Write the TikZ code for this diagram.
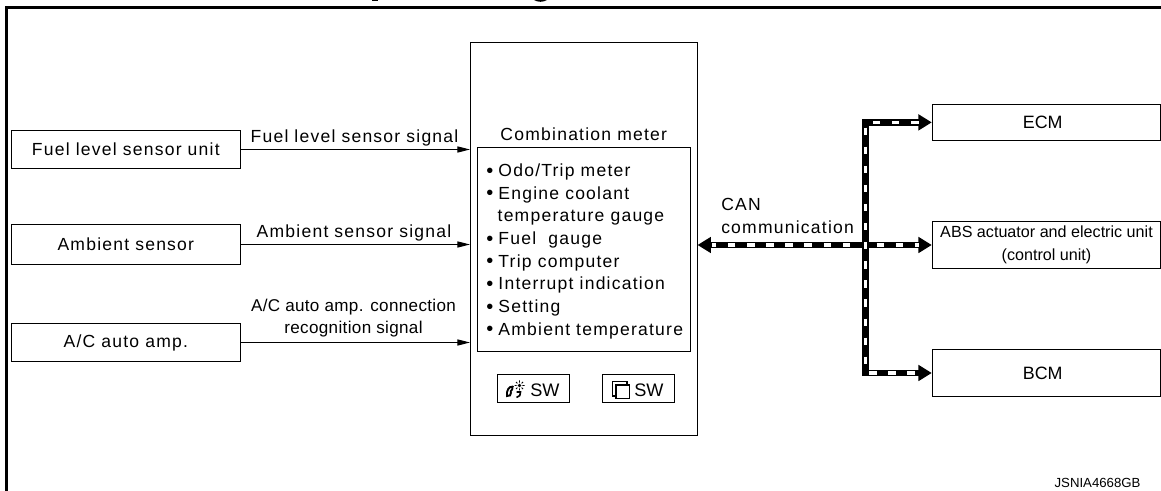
\documentclass[tikz,border=0pt]{standalone}
\usepackage{fontspec}
\usetikzlibrary{arrows.meta}
\setmainfont{Liberation Sans}
\newfontfamily\spc[LetterSpace=7]{Liberation Sans}
\newfontfamily\spl[LetterSpace=2]{Liberation Sans}
\newlength{\pxu}\setlength{\pxu}{0.75pt}
\newcommand{\bul}{\makebox[12.2\pxu][l]{\raisebox{-0.6pt}{\fontsize{15pt}{15pt}\selectfont\textbullet}}}
\tikzset{
  x=0.75pt,y=-0.75pt,
  box/.style={draw=black,line width=0.75pt,fill=white,inner sep=0pt,align=center},
  wide/.style={font=\fontsize{13.15pt}{17pt}\selectfont\spc},
  narrow/.style={font=\fontsize{12.8pt}{16.8pt}\selectfont\spl},
  tight/.style={font=\fontsize{12.1pt}{17.5pt}\selectfont},
  lab/.style={inner sep=0pt,anchor=base},
  sig/.style={draw=black,line width=0.75pt,-{Triangle[length=9.5pt,width=4.6pt]}},
  canbase/.style={draw=black,line width=4.9pt,line cap=butt,miter limit=10,-{Triangle[length=10pt,width=11.5pt]}},
  canbaseb/.style={draw=black,line width=4.9pt,{Triangle[length=10pt,width=11.5pt]}-},
  candash/.style={draw=white,line width=2.4pt,dash pattern=on 5.5pt off 8.82pt},
}
\begin{document}
\begin{tikzpicture}
\useasboundingbox (0,0) rectangle (1161,491);
% frame
\draw[line width=2.3pt] (6.5,491) -- (6.5,7.5) -- (1161,7.5);
% title remnants
\fill (371.5,0) rectangle (377.5,1.4);
\fill (534,0) .. controls (538,2.4) and (543,2.4) .. (547,0) -- cycle;
% left boxes
\node[box,wide,minimum width=171.9pt,minimum height=28.5pt] (fuel) at (125.8,149.5) {Fuel level sensor unit};
\node[box,wide,minimum width=171.9pt,minimum height=29.5pt] (amb) at (125.8,244.5) {Ambient sensor};
\node[box,wide,minimum width=171.9pt,minimum height=29.2pt] (ac) at (125.8,342.5) {A/C auto amp.};
% main
\node[box,minimum width=169.9pt,minimum height=294.5pt] (main) at (583.75,238.8) {};
\node[lab,wide] (title) at (583.75,140.7) {Combination meter};
\node[box,minimum width=159.4pt,minimum height=153.3pt] (inner) at (583.75,249.5) {};
\node[inner sep=0pt,anchor=north west,align=left,wide] (list) at (486,163.4) {\bul Odo/Trip meter\\\bul Engine coolant\\\hspace*{11.4\pxu}temperature gauge\\\bul Fuel\ \ gauge\\\bul Trip computer\\\bul Interrupt indication\\\bul Setting\\\bul Ambient temperature};
\node[box,minimum width=54.3pt,minimum height=21.3pt] (sw1) at (533.5,388.5) {};
\node[box,minimum width=54.3pt,minimum height=21.3pt] (sw2) at (638.5,388.5) {};
\node[inner sep=0pt,anchor=base west,font=\fontsize{13.6pt}{16pt}\selectfont] (sw1t) at (530,396.7) {SW};
\node[inner sep=0pt,anchor=base west,font=\fontsize{13.6pt}{16pt}\selectfont] (sw2t) at (634,396.7) {SW};
% sw1 icon
\draw[line width=1.4pt,line cap=round] (513,386.5) .. controls (509,386) and (506,391) .. (507,396) .. controls (509.5,396.5) and (511.5,395) .. (511,392.5) (512.5,386.5) .. controls (513,388.5) and (512,390.5) .. (510.5,391.5);
\fill (519.5,385.5) circle (1.9);
\draw[line width=0.7pt] (519.5,380.5)--(519.5,382.6) (519.5,388.4)--(519.5,390.5) (514.5,385.5)--(516.6,385.5) (522.4,385.5)--(524.5,385.5) (516,382)--(517.4,383.4) (521.6,387.6)--(523,389) (523,382)--(521.6,383.4) (517.4,387.6)--(516,389);
\draw[line width=1.2pt] (516.5,392) -- (520.5,392) -- (519.8,395.5) -- (516.5,397.5);
% sw2 icon
\draw[line width=0.8pt] (612.8,381.8) rectangle (627,396);
\draw[line width=0.8pt,fill=white] (616,385) rectangle (629.3,398.3);
% right boxes
\node[box,minimum width=171.3pt,minimum height=27.5pt,font=\fontsize{13.4pt}{16pt}\selectfont] (ecm) at (1046.5,122.4) {ECM\hspace*{5.7pt}};
\node[box,tight,minimum width=171.3pt,minimum height=35.5pt] (abs) at (1046.5,244.7) {ABS actuator and electric unit\\(control unit)};
\node[box,minimum width=171.3pt,minimum height=35.5pt,font=\fontsize{13.4pt}{16pt}\selectfont] (bcm) at (1046.5,373) {BCM\hspace*{5.7pt}};
% signals
\coordinate (sf) at (main.west |- fuel.east);
\coordinate (sa) at (main.west |- amb.east);
\coordinate (sc) at (main.west |- ac.east);
\draw[sig] (fuel.east) -- (sf);
\draw[sig] (amb.east) -- (sa);
\draw[sig] (ac.east) -- (sc);
\node[lab,wide] (lf) at (354.5,142.7) {Fuel level sensor signal};
\node[lab,wide] (la) at (354,238) {Ambient sensor signal};
\node[lab,narrow,align=center,anchor=south] (lc) at (353.5,337.5) {A/C auto amp. connection\\recognition signal};
% CAN
\coordinate (j) at (865.7,245);
\draw[canbase] (j) |- (ecm.west);
\draw[canbase] (j) |- (bcm.west);
\draw[canbase] (j) -- (abs.west |- j);
\draw[canbaseb] (main.east |- j) -- (j);
\coordinate (d1a) at (850,245); \coordinate (d1b) at (712,245);
\coordinate (d2a) at (876.7,245); \coordinate (d2b) at (919,245);
\coordinate (d3a) at (873,122.4); \coordinate (d3b) at (919,122.4);
\coordinate (d4a) at (869.3,373); \coordinate (d4b) at (918,373);
\coordinate (d5a) at (865.7,127.6); \coordinate (d5b) at (865.7,365);
\draw[candash] (d1a) -- (d1b);
\draw[candash] (d2a) -- (d2b);
\draw[candash] (d3a) -- (d3b);
\draw[candash] (d4a) -- (d4b);
\draw[candash] (d5a) -- (d5b);
\node[inner sep=0pt,anchor=base west,align=left,wide] (can) at (721,210.7) {CAN};
\node[inner sep=0pt,anchor=base west,wide] (can2) at (721,234) {communication};
\node[inner sep=0pt,anchor=base east,font=\fontsize{9.9pt}{12pt}\selectfont] (code) at (1140.7,488) {JSNIA4668GB};
\end{tikzpicture}
\end{document}
